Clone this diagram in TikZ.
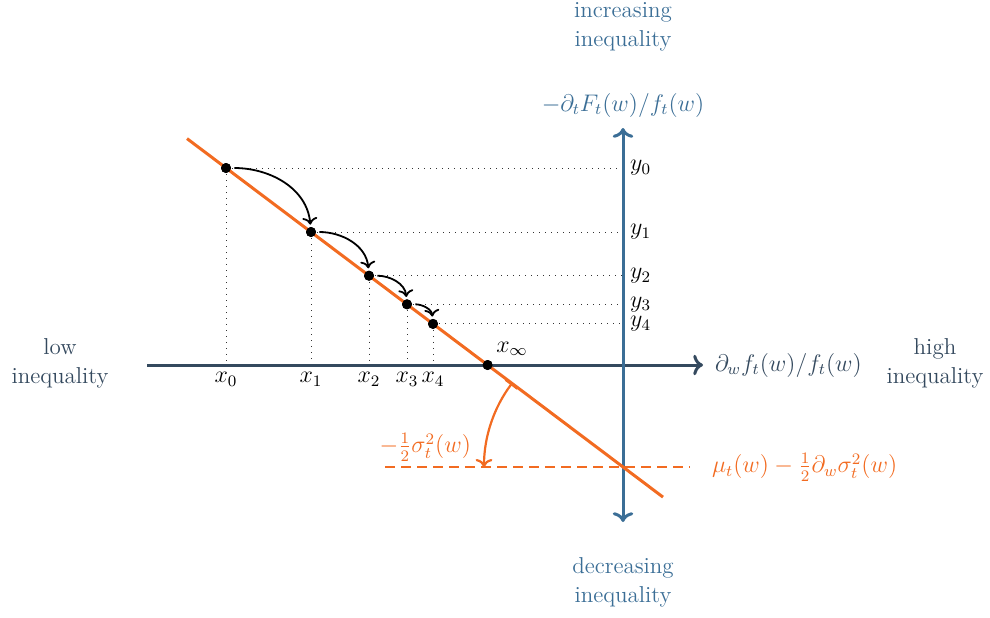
\documentclass[tikz,border=0pt]{standalone}
\usepackage{amsmath}
\usetikzlibrary{arrows.meta,calc}
\definecolor{axblue}{HTML}{3B6E96}
\definecolor{axdark}{HTML}{34495E}
\definecolor{myorange}{HTML}{F26B21}
\begin{document}
\begin{tikzpicture}[x=0.5pt,y=-0.5pt,
  font=\fontsize{11.5}{14.5}\selectfont,
  dot/.style={circle,fill=black,inner sep=0pt,minimum size=5pt},
  guide/.style={line width=0.5pt,dash pattern=on 0.5pt off 2.5pt,black!80},
  axisline/.style={line width=1.5pt},
  stepar/.style={->,line width=0.9pt,shorten >=1pt,shorten <=1.5pt},
  lbl/.style={align=center,inner sep=0pt}]
\useasboundingbox (0,0) rectangle (990,617);
% key coordinates
\coordinate (O) at (623,365);
\coordinate (C) at (623,467);
\coordinate (hL) at (147,365);
\coordinate (hR) at (703,365);
\coordinate (vT) at (623,128);
\coordinate (vB) at (623,522);
\coordinate (L1) at (187,138.6);
\coordinate (L2) at (663,497.1);
\coordinate (dL) at (385,467);
\coordinate (dR) at (690,467);
% points
\node[dot] (p0) at (226,168) {};
\node[dot] (p1) at (311,232) {};
\node[dot] (p2) at (369,275.7) {};
\node[dot] (p3) at (407,304.3) {};
\node[dot] (p4) at (433,323.9) {};
\node[dot] (pinf) at (487.6,365) {};
% guides
\foreach \p in {p0,p1,p2,p3,p4}{
  \draw[guide] (\p.center) -- (\p.center |- O);
  \draw[guide] (\p.center) -- (\p.center -| O);
}
% axes
\draw[axisline,axdark,->] (hL) -- (hR);
\draw[axisline,axblue,<->] (vB) -- (vT);
% dashed orange
\draw[myorange,line width=1.3pt,dash pattern=on 5pt off 3pt] (dL) -- (dR);
% orange line
\draw[myorange,line width=1.5pt] (L1) -- (L2);
% dots again on top
\foreach \p in {p0,p1,p2,p3,p4,pinf}{
  \fill (\p.center) circle[radius=2.5pt];
}
% step arrows
\draw[stepar] (p0) to[out=0,in=95] (p1);
\draw[stepar] (p1) to[out=0,in=95] (p2);
\draw[stepar] (p2) to[out=0,in=95] (p3);
\draw[stepar] (p3) to[out=0,in=95] (p4);
% orange arc
\coordinate (arcS) at ($(C)+(217:139)$);
\draw[myorange,line width=1.1pt,|->] (arcS) arc[start angle=217,end angle=180,radius=139];
\node[myorange,anchor=east] (sig) at (478,447) {$-\tfrac{1}{2}\sigma_t^2(w)$};
\node[myorange,anchor=west] (mu) at (705,467) {$\mu_t(w)-\tfrac{1}{2}\partial_w\sigma_t^2(w)$};
% point labels
\node[below] (lx0) at (p0.center |- O) {$x_0$};
\node[below] (lx1) at (p1.center |- O) {$x_1$};
\node[below] (lx2) at (p2.center |- O) {$x_2$};
\node[below] (lx3) at (p3.center |- O) {$x_3$};
\node[below] (lx4) at (p4.center |- O) {$x_4$};
\node (linf) at (512,349) {$x_\infty$};
\node[right] (ly0) at (p0.center -| O) {$y_0$};
\node[right] (ly1) at (p1.center -| O) {$y_1$};
\node[right] (ly2) at (p2.center -| O) {$y_2$};
\node[right] (ly3) at (p3.center -| O) {$y_3$};
\node[right] (ly4) at (p4.center -| O) {$y_4$};
% axis labels
\node[axblue] (vlab) at (623,105) {$-\partial_t F_t(w)/f_t(w)$};
\node[axdark,anchor=west] (hlab) at (708,365) {$\partial_w f_t(w)/f_t(w)$};
\node[lbl,axblue] (inc) at (623,27) {increasing\\inequality};
\node[lbl,axblue] (dec) at (623,582) {decreasing\\inequality};
\node[lbl,axdark] (low) at (60,363) {low\\inequality};
\node[lbl,axdark] (high) at (935,363) {high\\inequality};
\end{tikzpicture}
\end{document}
